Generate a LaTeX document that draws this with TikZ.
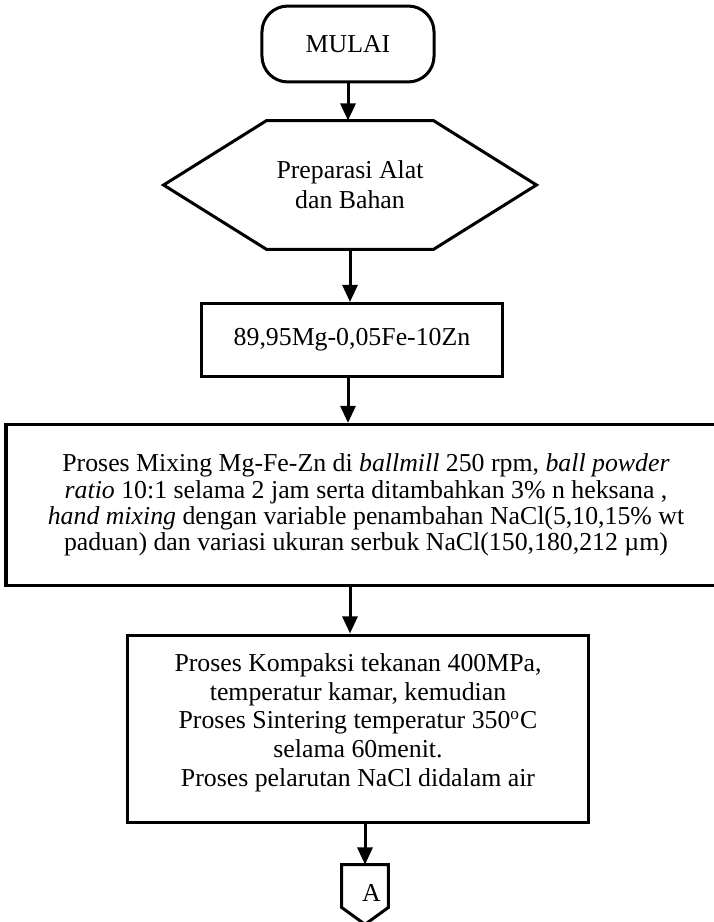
\documentclass[tikz,border=0pt]{standalone}
\usepackage{fontspec}
\setmainfont{Liberation Serif}
\usetikzlibrary{calc,arrows.meta}
\tikzset{
	box/.style={draw, line width=1.4pt, align=center, inner sep=0pt},
	arrow/.style={line width=1.4pt, -{Triangle[width=7pt,length=8pt]}},
	shapeline/.style={line width=1.4pt}
}

\begin{document}
\begin{tikzpicture}[x=0.465pt, y=-0.465pt, font=\fontsize{12}{14}\selectfont]
			%%%%% START %%%%%
			\useasboundingbox (0, 0) rectangle (713, 922);
			
			\node[box, rounded corners=12pt, minimum width=80pt, minimum height=35.3pt] (start) at (348, 44) {MULAI};
			
			\node[align=center, inner sep=0pt, minimum width=77.2pt, minimum height=59.5pt] (prep) at (350, 185) {Preparasi Alat\\dan Bahan};
			\draw[shapeline] (prep.north west) -- (prep.north east) -- ($(prep.east)+(103, 0)$) -- (prep.south east) -- (prep.south west) -- ($(prep.west)+(-103, 0)$) -- cycle;
			
			\node[box, minimum width=140.4pt, minimum height=33.9pt] (alloy) at (352, 340) {89,95Mg-0,05Fe-10Zn};
			
			\node[box, minimum width=334.8pt, minimum height=74.9pt, font=\fontsize{12}{12.2}\selectfont] (mix) at (366, 505) {Proses Mixing Mg-Fe-Zn di \textit{ballmill} 250 rpm, \textit{ball powder}\\\textit{ratio} 10:1 selama 2 jam serta ditambahkan 3\% n heksana ,\\\textit{hand mixing} dengan variable penambahan NaCl(5,10,15\% wt\\paduan) dan variasi ukuran serbuk NaCl(150,180,212 µm)};
			
			\node[box, minimum width=214.4pt, minimum height=87.4pt, font=\fontsize{12}{13.4}\selectfont] (proc) at (358, 729) {Proses Kompaksi tekanan 400MPa,\\temperatur kamar, kemudian\\Proses Sintering temperatur 350\textsuperscript{o}C\\selama 60menit.\\Proses pelarutan NaCl didalam air\\[-5pt]\mbox{}};
			
			\node[inner sep=0pt, minimum width=21.4pt, minimum height=19.5pt] (conA) at (365, 886) {\hspace*{6pt}\raisebox{-7pt}[0pt][0pt]{A}};
			\draw[shapeline] (conA.north west) -- (conA.north east) -- (conA.south east) -- ($(conA.south)+(0, 17)$) -- (conA.south west) -- cycle;
			
			\draw[arrow] (start) -- (start |- prep.north);
			\draw[arrow] (prep.south) -- (prep.south |- alloy.north);
			\draw[arrow] (start |- alloy.south) -- (start |- mix.north);
			\draw[arrow] (prep.south |- mix.south) -- (prep.south |- proc.north);
			\draw[arrow] (conA.north |- proc.south) -- (conA.north);
			
			%%%%% END %%%%%
\end{tikzpicture}
\end{document}
